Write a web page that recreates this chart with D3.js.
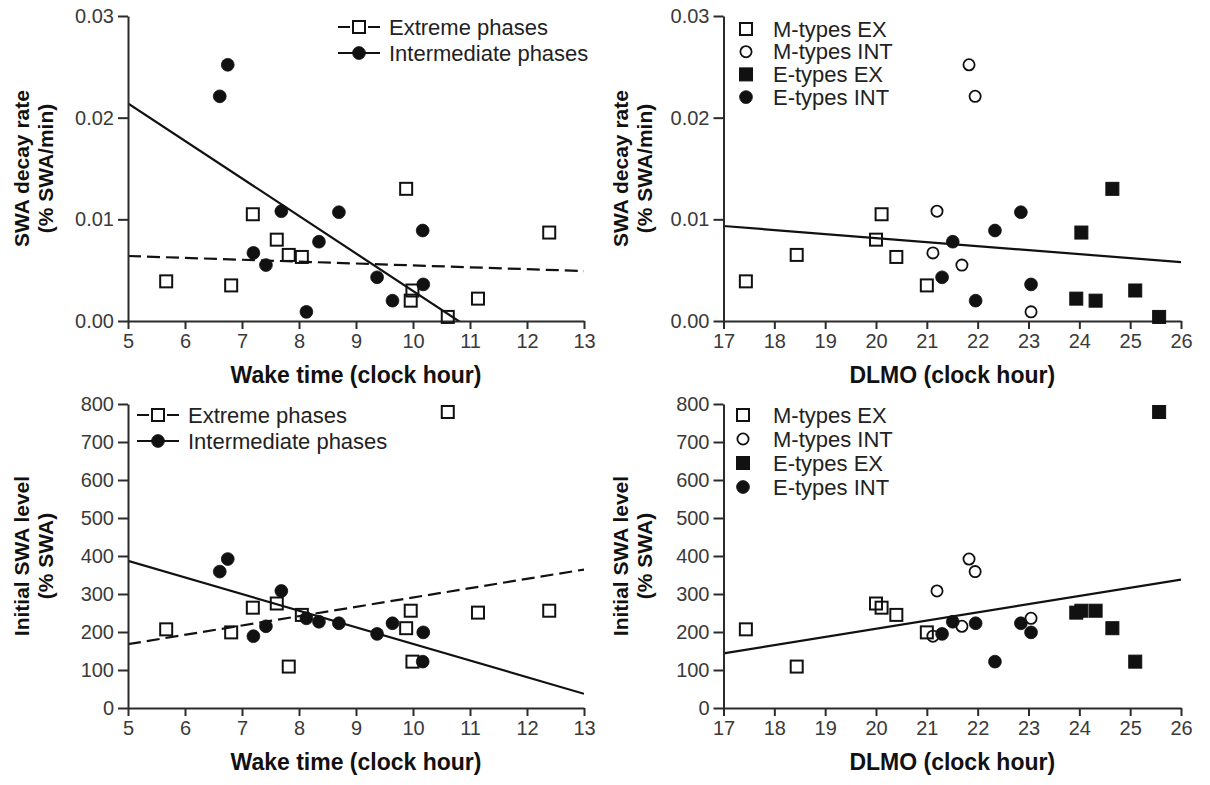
<!DOCTYPE html>
<html>
<head>
<meta charset="utf-8">
<script src="https://cdn.jsdelivr.net/npm/d3@7"></script>
<style>
  body { margin: 0; background: #fff; }
  svg text { font-family: "Liberation Sans", Arial, Helvetica, sans-serif; }
</style>
</head>
<body>
<svg id="chart" width="1210" height="785"></svg>
<script>
// Subjects per chronotype group and phase class:
// wake time and DLMO (clock hour), SWA decay rate (% SWA/min), initial SWA level (% SWA)
const mTypesEx = [
  { wake: 5.67, dlmo: 17.44, decay: 0.0039, initial: 207 },
  { wake: 7.82, dlmo: 18.44, decay: 0.0065, initial: 109 },
  { wake: 7.61, dlmo: 20.00, decay: 0.0080, initial: 275 },
  { wake: 7.19, dlmo: 20.11, decay: 0.0105, initial: 264 },
  { wake: 8.05, dlmo: 20.40, decay: 0.0063, initial: 245 },
  { wake: 6.81, dlmo: 21.00, decay: 0.0035, initial: 199 }
];
const mTypesInt = [
  { wake: 6.75, dlmo: 21.83, decay: 0.0252, initial: 392 },
  { wake: 6.61, dlmo: 21.95, decay: 0.0221, initial: 359 },
  { wake: 7.69, dlmo: 21.20, decay: 0.0108, initial: 308 },
  { wake: 7.20, dlmo: 21.12, decay: 0.0067, initial: 189 },
  { wake: 7.42, dlmo: 21.69, decay: 0.0055, initial: 215 },
  { wake: 8.13, dlmo: 23.05, decay: 0.0009, initial: 236 }
];
const eTypesEx = [
  { wake: 9.88, dlmo: 24.65, decay: 0.0130, initial: 210 },
  { wake: 12.39, dlmo: 24.04, decay: 0.0087, initial: 256 },
  { wake: 11.14, dlmo: 23.94, decay: 0.0022, initial: 251 },
  { wake: 9.96, dlmo: 24.32, decay: 0.0020, initial: 256 },
  { wake: 9.99, dlmo: 25.10, decay: 0.0030, initial: 122 },
  { wake: 10.61, dlmo: 25.57, decay: 0.0004, initial: 779 }
];
const eTypesInt = [
  { wake: 8.35, dlmo: 21.51, decay: 0.0078, initial: 227 },
  { wake: 9.37, dlmo: 21.30, decay: 0.0043, initial: 195 },
  { wake: 9.64, dlmo: 21.96, decay: 0.0020, initial: 223 },
  { wake: 10.17, dlmo: 22.34, decay: 0.0089, initial: 122 },
  { wake: 8.70, dlmo: 22.85, decay: 0.0107, initial: 223 },
  { wake: 10.18, dlmo: 23.05, decay: 0.0036, initial: 199 }
];

const extremePhases = mTypesEx.concat(eTypesEx);
const intermediatePhases = mTypesInt.concat(eTypesInt);
const allSubjects = mTypesEx.concat(mTypesInt, eTypesEx, eTypesInt);

const wakeTicks = [5, 6, 7, 8, 9, 10, 11, 12, 13];
const dlmoTicks = [17, 18, 19, 20, 21, 22, 23, 24, 25, 26];
const decayTicks = [0, 0.01, 0.02, 0.03];
const initialTicks = [0, 100, 200, 300, 400, 500, 600, 700, 800];

const ink = "#111";
const axisInk = "#2b2b2b";
const svg = d3.select("#chart");

// least-squares line y = a + b x
function fit(rows, xKey, yKey) {
  const mx = d3.mean(rows, d => d[xKey]);
  const my = d3.mean(rows, d => d[yKey]);
  const sxy = d3.sum(rows, d => (d[xKey] - mx) * (d[yKey] - my));
  const sxx = d3.sum(rows, d => (d[xKey] - mx) ** 2);
  const b = sxy / sxx;
  return { a: my - b * mx, b };
}

function drawMarks(g, rows, x, y, xKey, yKey, shape, filled) {
  if (shape === "square") {
    const s = filled ? 13 : 12;
    g.selectAll(null).data(rows).join("rect")
      .attr("x", d => x(d[xKey]) - s / 2)
      .attr("y", d => y(d[yKey]) - s / 2)
      .attr("width", s).attr("height", s)
      .attr("fill", filled ? ink : "none")
      .attr("stroke", ink)
      .attr("stroke-width", filled ? 1 : 2);
  } else {
    g.selectAll(null).data(rows).join("circle")
      .attr("cx", d => x(d[xKey]))
      .attr("cy", d => y(d[yKey]))
      .attr("r", filled ? 6.4 : 5.6)
      .attr("fill", filled ? ink : "none")
      .attr("stroke", ink)
      .attr("stroke-width", filled ? 0.8 : 1.8);
  }
}

function symbol(g, cx, cy, shape, filled) {
  if (shape === "square") {
    const s = filled ? 13 : 12;
    g.append("rect").attr("x", cx - s / 2).attr("y", cy - s / 2).attr("width", s).attr("height", s)
      .attr("fill", filled ? ink : "#fff").attr("stroke", ink).attr("stroke-width", filled ? 1 : 2);
  } else {
    g.append("circle").attr("cx", cx).attr("cy", cy).attr("r", filled ? 6.4 : 5.6)
      .attr("fill", filled ? ink : "#fff").attr("stroke", ink).attr("stroke-width", filled ? 0.8 : 1.8);
  }
}

let clipId = 0;
function panel(cfg) {
  const { xDomain, xRange, yDomain, yRange, xTicks, yTicks, yFormat,
          xKey, yKey, xTitle, yTitle, yTitleX, fits, groups, legend } = cfg;
  const x = d3.scaleLinear().domain(xDomain).range(xRange);
  const y = d3.scaleLinear().domain(yDomain).range(yRange);
  const g = svg.append("g");

  // regression lines, clipped to the plotting area
  const id = "clip" + (clipId++);
  svg.append("clipPath").attr("id", id).append("rect")
    .attr("x", xRange[0]).attr("y", yRange[1])
    .attr("width", xRange[1] - xRange[0]).attr("height", yRange[0] - yRange[1]);
  const lineGen = d3.line().x(d => x(d[0])).y(d => y(d[1]));
  fits.forEach(f => {
    const { a, b } = fit(f.rows, xKey, yKey);
    const ends = xDomain.map(v => [v, a + b * v]);
    g.append("path").attr("d", lineGen(ends))
      .attr("clip-path", `url(#${id})`)
      .attr("fill", "none").attr("stroke", ink).attr("stroke-width", 2.2)
      .attr("stroke-dasharray", f.dashed ? "13,6" : null);
  });

  // axes
  const xAxis = g.append("g").attr("transform", `translate(0,${yRange[0]})`)
    .call(d3.axisBottom(x).tickValues(xTicks).tickSize(8).tickPadding(5).tickSizeOuter(0));
  const yAxis = g.append("g").attr("transform", `translate(${xRange[0]},0)`)
    .call(d3.axisLeft(y).tickValues(yTicks).tickFormat(yFormat).tickSize(10).tickPadding(4).tickSizeOuter(0));
  [xAxis, yAxis].forEach(ax => {
    ax.select(".domain").attr("stroke", axisInk).attr("stroke-width", 2);
    ax.selectAll(".tick line").attr("stroke", axisInk).attr("stroke-width", 2);
    ax.selectAll(".tick text").attr("fill", "#3a3a3a").style("font-size", "20px");
  });

  // axis titles
  g.append("text")
    .attr("x", (xRange[0] + xRange[1]) / 2).attr("y", yRange[0] + 62)
    .attr("text-anchor", "middle").attr("fill", ink)
    .style("font-size", "23px").style("font-weight", "bold")
    .text(xTitle);
  const cy = (yRange[0] + yRange[1]) / 2;
  yTitle.forEach((t, i) => {
    g.append("text")
      .attr("transform", `translate(${yTitleX + i * 24.5},${cy}) rotate(-90)`)
      .attr("text-anchor", "middle").attr("dominant-baseline", "central")
      .attr("fill", ink).style("font-size", "21px").style("font-weight", "bold")
      .text(t);
  });

  // data points
  groups.forEach(gr => drawMarks(g, gr.rows, x, y, xKey, yKey, gr.shape, gr.filled));

  // legend
  const lg = g.append("g");
  legend.items.forEach((it, i) => {
    const ly = legend.y + i * legend.dy;
    if (it.line) {
      lg.append("line").attr("x1", legend.x - 21).attr("x2", legend.x + 21)
        .attr("y1", ly).attr("y2", ly)
        .attr("stroke", ink).attr("stroke-width", 2.2)
        .attr("stroke-dasharray", it.dashed ? "12,3" : null);
    }
    symbol(lg, legend.x, ly, it.shape, it.filled);
    lg.append("text").attr("x", legend.textX).attr("y", ly)
      .attr("dominant-baseline", "central").attr("fill", "#222")
      .style("font-size", "22px").text(it.label);
  });
}

const fmtDecay = d3.format(".2f");
const fmtInitial = d3.format("d");
const LEFT = [128, 584], RIGHT = [723.5, 1181];
const TOP = [321, 16], BOTTOM = [708, 404];

const phaseLegendItems = [
  { label: "Extreme phases", shape: "square", filled: false, line: true, dashed: true },
  { label: "Intermediate phases", shape: "circle", filled: true, line: true, dashed: false }
];
const typeLegendItems = [
  { label: "M-types EX", shape: "square", filled: false },
  { label: "M-types INT", shape: "circle", filled: false },
  { label: "E-types EX", shape: "square", filled: true },
  { label: "E-types INT", shape: "circle", filled: true }
];
const phaseGroups = [
  { rows: extremePhases, shape: "square", filled: false },
  { rows: intermediatePhases, shape: "circle", filled: true }
];
const typeGroups = [
  { rows: mTypesEx, shape: "square", filled: false },
  { rows: mTypesInt, shape: "circle", filled: false },
  { rows: eTypesEx, shape: "square", filled: true },
  { rows: eTypesInt, shape: "circle", filled: true }
];

// top left: decay rate vs wake time
panel({
  xDomain: [5, 13], xRange: LEFT, yDomain: [0, 0.03], yRange: TOP,
  xTicks: wakeTicks, yTicks: decayTicks, yFormat: fmtDecay,
  xKey: "wake", yKey: "decay",
  xTitle: "Wake time (clock hour)", yTitle: ["SWA decay rate", "(% SWA/min)"], yTitleX: 21,
  fits: [{ rows: extremePhases, dashed: true }, { rows: intermediatePhases, dashed: false }],
  groups: phaseGroups,
  legend: { x: 359, y: 27, dy: 26, textX: 389, items: phaseLegendItems }
});

// top right: decay rate vs DLMO
panel({
  xDomain: [17, 26], xRange: RIGHT, yDomain: [0, 0.03], yRange: TOP,
  xTicks: dlmoTicks, yTicks: decayTicks, yFormat: fmtDecay,
  xKey: "dlmo", yKey: "decay",
  xTitle: "DLMO (clock hour)", yTitle: ["SWA decay rate", "(% SWA/min)"], yTitleX: 620,
  fits: [{ rows: allSubjects, dashed: false }],
  groups: typeGroups,
  legend: { x: 746, y: 29, dy: 22.7, textX: 773, items: typeLegendItems }
});

// bottom left: initial SWA vs wake time
panel({
  xDomain: [5, 13], xRange: LEFT, yDomain: [0, 800], yRange: BOTTOM,
  xTicks: wakeTicks, yTicks: initialTicks, yFormat: fmtInitial,
  xKey: "wake", yKey: "initial",
  xTitle: "Wake time (clock hour)", yTitle: ["Initial SWA level", "(% SWA)"], yTitleX: 21,
  fits: [{ rows: extremePhases, dashed: true }, { rows: intermediatePhases, dashed: false }],
  groups: phaseGroups,
  legend: { x: 158, y: 415, dy: 26, textX: 188, items: phaseLegendItems }
});

// bottom right: initial SWA vs DLMO
panel({
  xDomain: [17, 26], xRange: RIGHT, yDomain: [0, 800], yRange: BOTTOM,
  xTicks: dlmoTicks, yTicks: initialTicks, yFormat: fmtInitial,
  xKey: "dlmo", yKey: "initial",
  xTitle: "DLMO (clock hour)", yTitle: ["Initial SWA level", "(% SWA)"], yTitleX: 620,
  fits: [{ rows: allSubjects, dashed: false }],
  groups: typeGroups,
  legend: { x: 743, y: 415, dy: 24, textX: 773, items: typeLegendItems }
});
</script>
</body>
</html>
